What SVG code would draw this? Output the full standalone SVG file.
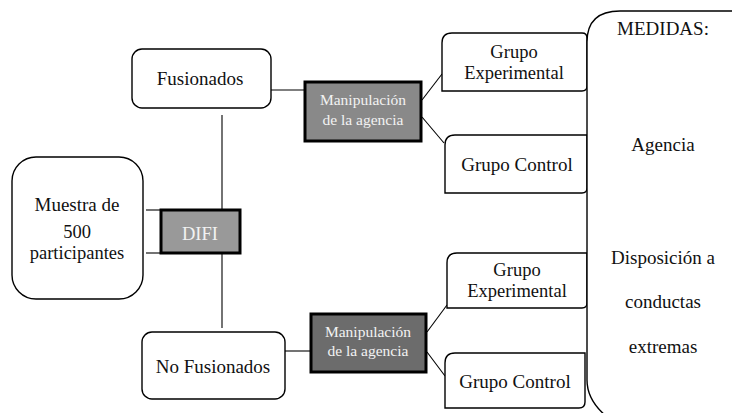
<svg xmlns="http://www.w3.org/2000/svg" width="732" height="413" viewBox="0 0 732 413">
<style>
.b{fill:#fff;stroke:#000;stroke-width:1.4}
.d{stroke:#000;stroke-width:3}
.c{stroke:#000;stroke-width:1.1;fill:none}
text{font-family:"Liberation Serif","Times New Roman",serif;font-size:19px;fill:#111;text-anchor:middle}
.t{font-size:18.5px}
.w{fill:#f2f2f2;font-size:15.5px}
</style>
<rect width="732" height="413" fill="#fff"/>
<g id="connectors">
<line class="c" x1="146" y1="210" x2="161" y2="210"/>
<line class="c" x1="146" y1="253" x2="161" y2="253"/>
<line class="c" x1="222" y1="115" x2="222" y2="209"/>
<line class="c" x1="222" y1="254" x2="222" y2="328"/>
<line class="c" x1="271" y1="90" x2="304" y2="90"/>
<line class="c" x1="285" y1="351" x2="310" y2="351"/>
<line class="c" x1="422" y1="100" x2="442" y2="74"/>
<line class="c" x1="422" y1="117" x2="444" y2="143"/>
<line class="c" x1="427" y1="332" x2="447" y2="305"/>
<line class="c" x1="427" y1="352" x2="445" y2="376"/>
</g>
<g id="muestra">
<rect class="b" x="12" y="157" width="131" height="142" rx="24"/>
<text x="77" y="211">Muestra de</text>
<text class="t" x="77" y="238">500</text>
<text class="t" x="77" y="259">participantes</text>
</g>
<g id="difi">
<rect class="d" x="161" y="210" width="79" height="43" fill="#999"/>
<text x="200" y="240" style="fill:#f2f2f2;font-size:18.5px">DIFI</text>
</g>
<g id="fusionados">
<rect class="b" x="132" y="49" width="139" height="59" rx="10"/>
<text x="200" y="85">Fusionados</text>
</g>
<g id="nofusionados">
<rect class="b" x="142" y="332" width="143" height="67" rx="10"/>
<text x="213" y="373">No Fusionados</text>
</g>
<g id="manip1">
<rect class="d" x="305" y="82" width="116" height="59" fill="#898989"/>
<text class="w" x="363" y="105">Manipulación</text>
<text class="w" x="363" y="125">de la agencia</text>
</g>
<g id="manip2">
<rect class="d" x="311" y="314" width="115" height="58" fill="#6c6c6c"/>
<text class="w" x="368" y="337">Manipulación</text>
<text class="w" x="368" y="356">de la agencia</text>
</g>
<g id="grupoexp1">
<path class="b" d="M442 91 L442 43 Q442 33 452 33 L582 33 Q587 33 587 38 L587 86 Q587 91 582 91 Z"/>
<text class="t" x="514" y="58">Grupo</text>
<text class="t" x="514" y="79">Experimental</text>
</g>
<g id="grupocontrol1">
<path class="b" d="M445 193 L445 145 Q445 135 455 135 L587 135 L587 188 Q587 193 582 193 Z"/>
<text x="517" y="171">Grupo Control</text>
</g>
<g id="grupoexp2">
<path class="b" d="M447 308 L447 263 Q447 253 457 253 L587 253 L587 303 Q587 308 582 308 Z"/>
<text class="t" x="517" y="276">Grupo</text>
<text class="t" x="517" y="297">Experimental</text>
</g>
<g id="grupocontrol2">
<path class="b" d="M445 408 L445 363 Q445 353 455 353 L585 353 L585 402 Q585 408 579 408 Z"/>
<text x="515" y="388">Grupo Control</text>
</g>
<g id="medidas">
<path class="b" d="M606 416 Q587 400 587 380 L587 42 Q587 11 620 11 L740 11"/>
<text x="663" y="35">MEDIDAS:</text>
<text x="663" y="151">Agencia</text>
<text x="663" y="264">Disposición a</text>
<text x="663" y="308">conductas</text>
<text x="663" y="353">extremas</text>
</g>
</svg>
